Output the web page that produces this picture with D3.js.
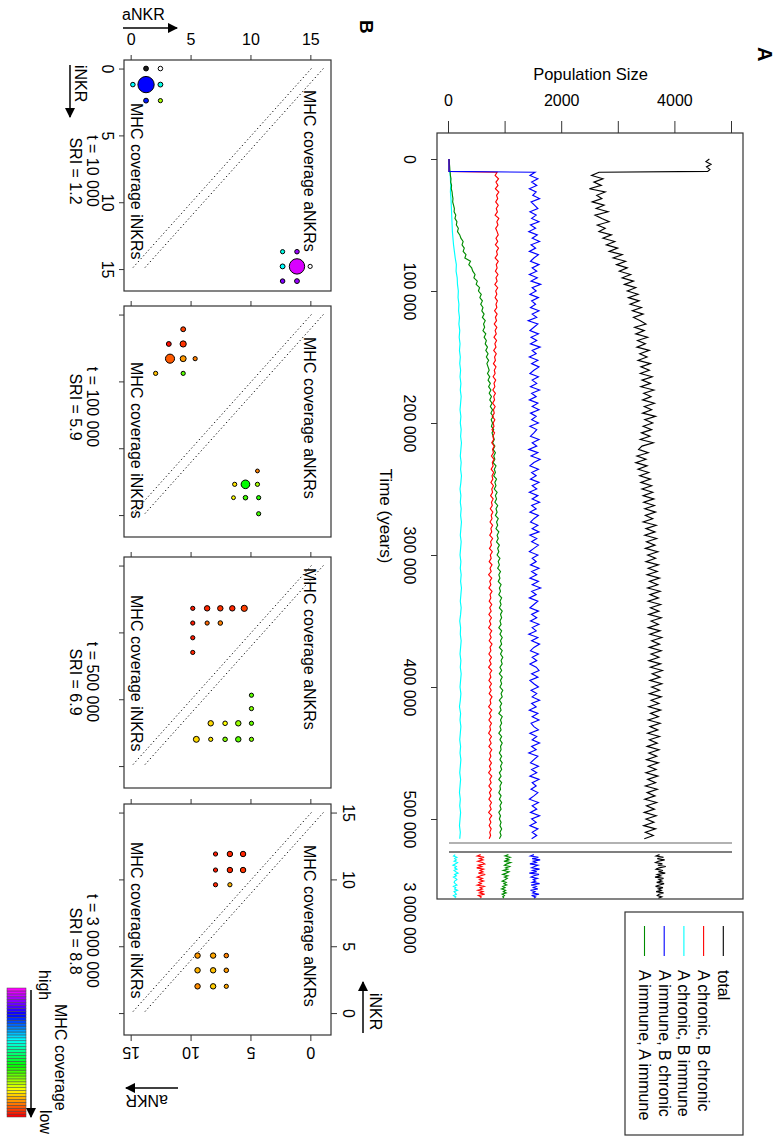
<!DOCTYPE html>
<html>
<head>
<meta charset="utf-8">
<script src="https://cdn.jsdelivr.net/npm/d3@7"></script>
<style>
body { margin: 0; background: #fff; }
text { font-family: "Liberation Sans", Arial, sans-serif; fill: #000; }
</style>
</head>
<body>
<div class="container"></div>
<script>
// ---------- panel A data ----------
var preTimes = [0, 2000, 4000, 6000, 8000, 9400];
var fineTimes = preTimes.concat(d3.range(10000, 515001, 2500));   // total, red, blue, green
var coarseTimes = preTimes.concat(d3.range(10000, 515001, 5000)); // cyan
var lateTimes = d3.range(2952000, 2985001, 1000);

var totalEarly = [4600, 4540, 4630, 4550, 4610, 4570,
  2650, 2520, 2720, 2560, 2690, 2480, 2760, 2610, 2700, 2530,
  2740, 2600, 2810, 2580, 2700, 2830, 2620, 2760, 2650, 2870,
  2720, 2930, 2780, 2980, 2830, 3060, 2900, 3120, 2960, 3150,
  3010, 3210, 3060, 3260, 3100, 3300, 3150, 3340, 3170, 3360,
  3200, 3400, 3240, 3430, 3260, 3380, 3480, 3280, 3450, 3300,
  3510, 3330, 3470, 3320, 3540, 3370, 3500, 3340, 3560, 3390,
  3540, 3380, 3590, 3410, 3560, 3390, 3620, 3440, 3570, 3420,
  3630, 3450, 3580, 3420, 3650, 3460, 3600, 3430, 3580, 3400,
  3550, 3380, 3610, 3410, 3350, 3520, 3320, 3480, 3300, 3500,
  3340, 3530, 3370, 3560, 3390, 3580, 3410, 3600, 3430, 3620,
  3440, 3630, 3460, 3650, 3470, 3600, 3430, 3660, 3480, 3640,
  3460, 3670, 3490, 3640, 3470, 3690, 3510, 3650, 3480, 3700,
  3520, 3680, 3500, 3720, 3540, 3690, 3510, 3730, 3550, 3700,
  3520, 3740, 3560, 3710, 3530, 3750, 3570, 3700, 3520, 3730,
  3550, 3760, 3580, 3720, 3540, 3750, 3570, 3710, 3530, 3740,
  3560, 3770, 3590, 3730, 3550, 3760, 3580, 3720, 3540, 3750,
  3570, 3710, 3530, 3740, 3560, 3700, 3520, 3730, 3550, 3690,
  3510, 3720, 3540, 3680, 3500, 3710, 3530, 3670, 3490, 3700,
  3520, 3660, 3480, 3690, 3510, 3650, 3470, 3680, 3500, 3640,
  3460, 3670, 3490, 3630, 3450, 3660, 3480, 3620, 3440, 3650,
  3470, 3610, 3450];
var ccEarly = [0, 0, 0, 0, 0, 0,
  850, 815, 875, 830, 865, 820, 880, 840, 860, 825,
  870, 835, 855, 815, 880, 845, 865, 825, 850, 870,
  830, 860, 820, 875, 840, 855, 815, 870, 835, 850,
  820, 865, 830, 850, 810, 860, 825, 845, 815, 855,
  830, 845, 805, 850, 820, 840, 800, 845, 815, 835,
  795, 840, 810, 830, 790, 835, 805, 820, 785, 830,
  800, 815, 780, 825, 795, 810, 775, 820, 790, 805,
  770, 815, 785, 800, 765, 810, 780, 795, 760, 805,
  775, 790, 755, 800, 770, 785, 750, 795, 765, 780,
  745, 790, 760, 775, 740, 785, 755, 770, 735, 780,
  750, 765, 730, 775, 745, 760, 725, 770, 740, 755,
  720, 770, 735, 750, 715, 765, 730, 745, 710, 760,
  725, 745, 700, 755, 720, 740, 705, 760, 725, 740,
  710, 755, 720, 745, 705, 750, 715, 740, 700, 755,
  720, 745, 710, 760, 725, 740, 705, 750, 715, 745,
  700, 755, 720, 740, 705, 750, 715, 745, 710, 760,
  725, 740, 700, 755, 715, 745, 705, 750, 720, 735,
  700, 750, 715, 745, 705, 755, 720, 740, 710, 750,
  715, 740, 700, 755, 720, 745, 705, 750, 715, 740,
  705, 750, 720, 745, 700, 755, 715, 740, 710, 745,
  720, 735, 710];
var ciEarly = [0, 0, 0, 0, 0, 0,
  20, 25, 30, 25, 35, 40, 45, 50, 55, 60,
  70, 80, 95, 110, 130, 125, 145, 150, 165, 160,
  175, 170, 185, 175, 190, 180, 195, 185, 200, 190,
  205, 195, 210, 200, 215, 205, 195, 210, 200, 215,
  205, 220, 210, 200, 215, 205, 220, 210, 195, 210,
  200, 215, 205, 220, 210, 200, 215, 205, 195, 210,
  200, 215, 205, 220, 210, 200, 215, 205, 190, 205,
  200, 215, 205, 195, 210, 200, 215, 205, 195, 210,
  200, 185, 205, 195, 210, 200, 190, 205, 195, 210,
  200, 190, 205, 195, 185, 200, 190, 205, 195, 185,
  200, 190];
var icEarly = [0, 0, 0, 0, 0, 0,
  1520, 1430, 1570, 1460, 1550, 1420, 1540, 1480, 1600, 1450,
  1510, 1570, 1430, 1540, 1460, 1590, 1440, 1530, 1410, 1560,
  1470, 1600, 1450, 1530, 1420, 1580, 1500, 1440, 1590, 1470,
  1550, 1420, 1560, 1450, 1620, 1470, 1540, 1430, 1580, 1460,
  1530, 1440, 1590, 1470, 1550, 1400, 1570, 1500, 1430, 1580,
  1450, 1550, 1440, 1610, 1470, 1540, 1420, 1570, 1460, 1590,
  1500, 1430, 1580, 1470, 1550, 1440, 1600, 1460, 1540, 1420,
  1570, 1470, 1590, 1440, 1540, 1460, 1580, 1430, 1550, 1500,
  1440, 1590, 1470, 1550, 1410, 1570, 1450, 1610, 1500, 1430,
  1580, 1460, 1540, 1440, 1590, 1470, 1550, 1420, 1570, 1470,
  1600, 1460, 1540, 1430, 1580, 1500, 1440, 1570, 1470, 1590,
  1430, 1550, 1460, 1580, 1500, 1420, 1570, 1470, 1540, 1440,
  1590, 1460, 1550, 1430, 1580, 1470, 1620, 1460, 1540, 1420,
  1570, 1500, 1430, 1580, 1460, 1550, 1440, 1590, 1470, 1540,
  1410, 1570, 1460, 1600, 1500, 1440, 1580, 1470, 1550, 1430,
  1540, 1590, 1460, 1570, 1430, 1500, 1580, 1450, 1550, 1470,
  1600, 1460, 1540, 1420, 1570, 1470, 1590, 1450, 1500, 1580,
  1430, 1550, 1470, 1600, 1460, 1540, 1410, 1570, 1500, 1440,
  1580, 1460, 1550, 1430, 1590, 1470, 1540, 1450, 1570, 1500,
  1420, 1580, 1470, 1550, 1440, 1600, 1460, 1540, 1430, 1570,
  1470, 1550, 1460];
var iiEarly = [0, 5, 8, 12, 15, 18,
  20, 25, 35, 30, 45, 40, 55, 60, 70, 65,
  80, 95, 90, 120, 105, 140, 130, 165, 150, 190,
  210, 250, 230, 270, 250, 300, 280, 380, 350, 400,
  420, 460, 440, 500, 480, 540, 520, 570, 545, 590,
  560, 600, 580, 620, 590, 640, 610, 630, 600, 650,
  620, 660, 640, 680, 650, 690, 660, 700, 670, 690,
  710, 680, 720, 690, 730, 700, 740, 710, 750, 720,
  760, 730, 770, 740, 780, 745, 770, 750, 790, 760,
  780, 800, 770, 810, 780, 820, 790, 810, 780, 830,
  800, 820, 790, 840, 810, 830, 800, 850, 820, 840,
  810, 860, 830, 850, 820, 870, 840, 860, 830, 880,
  850, 870, 840, 890, 860, 880, 850, 900, 870, 890,
  860, 910, 880, 900, 870, 920, 890, 910, 880, 930,
  900, 920, 890, 940, 910, 930, 900, 920, 880, 930,
  900, 940, 910, 930, 890, 940, 910, 950, 920, 940,
  900, 930, 890, 940, 910, 930, 900, 950, 920, 940,
  890, 930, 900, 920, 880, 940, 910, 930, 900, 920,
  880, 930, 900, 940, 910, 920, 890, 930, 900, 940,
  910, 930, 890, 920, 880, 930, 900, 910, 880, 920,
  890, 930, 900, 920, 880, 910, 890, 920, 900, 930,
  900, 920, 890];

var totalLate = [3720, 3660, 3790, 3680, 3810, 3700, 3650, 3770, 3690, 3830, 3710, 3660, 3780, 3700, 3820, 3680, 3740,
  3640, 3790, 3710, 3760, 3670, 3800, 3720, 3650, 3780, 3700, 3750, 3660, 3790, 3710, 3680, 3760, 3700];
var ccLate = [560, 500, 620, 540, 600, 510, 590, 630, 520, 580, 490, 610, 550, 600, 520, 640, 560,
  500, 590, 540, 610, 530, 570, 500, 620, 550, 590, 510, 600, 540, 630, 520, 570, 550];
var ciLate = [110, 80, 140, 100, 130, 90, 150, 110, 70, 130, 100, 140, 90, 120, 160, 100, 130,
  80, 120, 140, 100, 90, 110, 140, 80, 120, 100, 150, 90, 110, 130, 80, 120, 100];
var icLate = [1500, 1440, 1580, 1470, 1610, 1490, 1540, 1430, 1570, 1510, 1460, 1600, 1480, 1550, 1420, 1590, 1500,
  1450, 1560, 1490, 1530, 1470, 1600, 1450, 1540, 1490, 1570, 1440, 1520, 1480, 1590, 1460, 1530, 1500];
var iiLate = [1050, 990, 1080, 1010, 1060, 970, 1090, 1020, 980, 1070, 1000, 1040, 960, 1060, 1010, 950, 1040,
  980, 1030, 990, 940, 1010, 970, 1020, 950, 990, 930, 1000, 960, 1010, 940, 980, 950, 970];

var seriesNames = ['total', 'A chronic, B chronic', 'A chronic, B immune', 'A immune, B chronic', 'A immune, A immune'];
var seriesColors = ['#000000', '#ff0000', '#00ffff', '#0000ff', '#008b00'];
var timeTicks = [0, 100000, 200000, 300000, 400000, 500000];
var popTicks = [0, 1000, 2000, 3000, 4000, 5000];
var popLabels = [0, 2000, 4000];

// ---------- panel B data (iNKR, aNKR, MHC coverage 0=low..1=high, frequency) ----------
var panelTimes = ['t = 10 000', 't = 100 000', 't = 500 000', 't = 3 000 000'];
var panelSRI = ['SRI = 1.2', 'SRI = 5.9', 'SRI = 6.9', 'SRI = 8.8'];

var p1Inkr = [0, 0, 1.2, 1.2, 1.2, 2.4, 2.4, 13.7, 13.7, 14.8, 14.8, 14.8, 15.9, 15.9];
var p1Ankr = [1.2, 2.4, 0.1, 1.2, 2.4, 1.2, 2.4, 12.6, 13.8, 12.6, 13.8, 14.9, 12.6, 13.8];
var p1Cov  = [-1, null, 0.6, 0.8, 0.58, 0.78, 0.27, 0.58, 0.92, 0.6, 0.97, null, 0.9, 0.92];
var p1Freq = [0.08, 0.07, 0.07, 0.9, 0.08, 0.08, 0.06, 0.06, 0.07, 0.08, 0.8, 0.06, 0.07, 0.08];

var p2Inkr = [1.1, 2.2, 2.2, 3.3, 3.3, 3.3, 4.4, 4.4, 11.7, 12.7, 12.7, 12.7, 13.7, 13.7, 13.7, 14.9];
var p2Ankr = [4.3, 3.1, 4.3, 3.2, 4.3, 5.3, 2.0, 4.3, 10.5, 8.6, 9.5, 10.5, 8.5, 9.5, 10.6, 10.6];
var p2Cov  = [0.05, 0.01, 0.04, 0.07, 0.12, 0.1, 0.15, 0.33, 0.1, 0.18, 0.4, 0.27, 0.2, 0.35, 0.37, 0.35];
var p2Freq = [0.08, 0.08, 0.13, 0.28, 0.12, 0.06, 0.06, 0.06, 0.05, 0.06, 0.25, 0.06, 0.05, 0.07, 0.06, 0.06];

var p3Inkr = [3.2, 4.3, 5.4, 6.5, 3.2, 3.2, 3.2, 3.2, 4.3, 4.3, 9.7, 10.7, 11.8, 11.8, 11.8, 11.8, 13.0, 13.0, 13.0, 13.0, 13.0];
var p3Ankr = [5.1, 5.1, 5.1, 5.1, 6.3, 7.4, 8.4, 9.4, 6.3, 7.4, 10.0, 10.0, 10.0, 6.6, 7.8, 8.9, 5.4, 6.6, 7.8, 8.9, 10.0];
var p3Cov  = [0.02, 0.02, 0.02, 0.03, 0.03, 0.04, 0.03, 0.05, 0.08, 0.1, 0.33, 0.3, 0.32, 0.17, 0.2, 0.28, 0.17, 0.18, 0.3, 0.33, 0.3];
var p3Freq = [0.06, 0.06, 0.06, 0.06, 0.1, 0.1, 0.1, 0.13, 0.06, 0.07, 0.06, 0.06, 0.06, 0.1, 0.07, 0.1, 0.12, 0.06, 0.07, 0.1, 0.06];

// panel 4 is drawn with both axes reversed
var p4Inkr = [11.9, 11.9, 11.9, 10.7, 10.7, 10.7, 9.6, 9.6, 4.3, 4.3, 4.3, 3.2, 3.2, 3.2, 2.0, 2.0, 2.0];
var p4Ankr = [8.0, 6.8, 5.7, 8.0, 6.8, 5.7, 8.0, 6.8, 9.5, 8.2, 7.1, 9.5, 8.2, 7.1, 9.5, 8.2, 7.1];
var p4Cov  = [0.02, 0.03, 0.03, 0.02, 0.03, 0.04, 0.03, 0.14, 0.12, 0.13, 0.1, 0.14, 0.15, 0.12, 0.11, 0.16, 0.13];
var p4Freq = [0.06, 0.1, 0.1, 0.06, 0.1, 0.1, 0.06, 0.06, 0.1, 0.1, 0.07, 0.1, 0.1, 0.07, 0.1, 0.1, 0.06];

var panelTicks = [0, 5, 10, 15];

// ---------- drawing ----------
var translate = function(x, y) { return 'translate(' + x + ',' + y + ')'; };
var fmtTime = function(d) { return d3.format(',')(d).replace(/,/g, ' '); };
var covColor = function(c) {
    if (c === null) return '#ffffff';
    if (c < 0) return '#1a1a1a';
    return d3.hsl(300 * c, 1, 0.5).formatHex();
};

var svg = d3.select('.container').append('svg')
    .attr('width', 781).attr('height', 1136);
svg.append('rect').attr('width', 781).attr('height', 1136).attr('fill', '#fff');

// landscape figure rotated a quarter turn clockwise
var root = svg.append('g').attr('transform', 'translate(781,0) rotate(90)');

root.append('text').attr('x', 47).attr('y', 23)
    .attr('font-weight', 'bold').attr('font-size', 20).text('A');
root.append('text').attr('x', 20).attr('y', 421)
    .attr('font-weight', 'bold').attr('font-size', 19).text('B');

// ----- panel A -----
var timeScale = d3.scaleLinear().domain([0, 500000]).range([159, 819]);
var lateScale = d3.scaleLinear().domain([2950000, 3000000]).range([852, 918]);
var popScale = d3.scaleLinear().domain([0, 5000]).range([332, 49]);

var earlyData = [
    d3.zip(fineTimes, totalEarly), d3.zip(fineTimes, ccEarly), d3.zip(coarseTimes, ciEarly),
    d3.zip(fineTimes, icEarly), d3.zip(fineTimes, iiEarly)
];
var lateData = [totalLate, ccLate, ciLate, icLate, iiLate].map(function(v) { return d3.zip(lateTimes, v); });

var lineEarly = d3.line()
    .x(function(d) { return timeScale(d[0]); })
    .y(function(d) { return popScale(d[1]); });
var lineLate = d3.line()
    .x(function(d) { return lateScale(d[0]); })
    .y(function(d) { return popScale(d[1]); });

var gA = root.append('g');
var drawOrder = [2, 4, 1, 3, 0];
drawOrder.forEach(function(k) {
    gA.append('path').datum(earlyData[k]).attr('d', lineEarly)
        .attr('fill', 'none').attr('stroke', seriesColors[k]).attr('stroke-width', 1.15);
    gA.append('path').datum(lateData[k]).attr('d', lineLate)
        .attr('fill', 'none').attr('stroke', seriesColors[k]).attr('stroke-width', 1.15);
});

// axis break
gA.append('line').attr('x1', 843).attr('x2', 843)
    .attr('y1', popScale(0)).attr('y2', popScale(5000)).attr('stroke', '#666').attr('stroke-width', 1.2);
gA.append('line').attr('x1', 852).attr('x2', 852)
    .attr('y1', popScale(0)).attr('y2', popScale(5000)).attr('stroke', '#000').attr('stroke-width', 1.2);

gA.append('rect').attr('x', 133).attr('y', 38).attr('width', 766).attr('height', 306)
    .attr('fill', 'none').attr('stroke', '#333').attr('stroke-width', 1.2);

var popAxis = d3.axisLeft(popScale).tickValues(popTicks).tickSize(12).tickSizeOuter(0)
    .tickFormat(function(d) { return popLabels.indexOf(d) >= 0 ? d : ''; });
var gPop = gA.append('g').attr('transform', translate(133, 0)).call(popAxis)
    .attr('font-size', 16).attr('font-family', null);
gPop.select('.domain').remove();
gPop.selectAll('line').attr('stroke', '#333');
gPop.selectAll('text').attr('x', null).attr('dy', null).attr('text-anchor', 'middle')
    .attr('transform', 'translate(-27,0) rotate(-90)');

var timeAxis = d3.axisBottom(timeScale).tickValues(timeTicks).tickSize(6).tickSizeOuter(0)
    .tickFormat(fmtTime);
var gTime = gA.append('g').attr('transform', translate(0, 344)).call(timeAxis)
    .attr('font-size', 16).attr('font-family', null);
gTime.select('.domain').remove();
gTime.selectAll('line').attr('stroke', '#333');
gTime.selectAll('text').attr('y', 33).attr('dy', null);

gA.append('text').attr('x', lateScale(3000000)).attr('y', 377)
    .attr('text-anchor', 'middle').attr('font-size', 16).text(fmtTime(3000000));

gA.append('text').attr('x', 516).attr('y', 401).attr('text-anchor', 'middle')
    .attr('font-size', 17).text('Time (years)');
gA.append('text').attr('transform', translate(80, popScale(2500)) + ' rotate(-90)')
    .attr('text-anchor', 'middle').attr('font-size', 16.5).text('Population Size');

// legend
var gL = gA.append('g').attr('transform', translate(912, 38));
gL.append('rect').attr('width', 223).attr('height', 118)
    .attr('fill', '#fff').attr('stroke', '#333').attr('stroke-width', 1.2);
var rows = gL.selectAll('g.row').data(seriesNames).enter().append('g')
    .attr('transform', function(d, i) { return translate(0, 19.7 + i * 19.7); });
rows.append('line').attr('x1', 14).attr('x2', 44)
    .attr('stroke', function(d, i) { return seriesColors[i]; }).attr('stroke-width', 1.1);
rows.append('text').attr('x', 58).attr('y', 5.5).attr('font-size', 16).text(function(d) { return d; });

// ----- panel B -----
var tops = [60, 306, 557, 804];
var panelData = [
    [p1Inkr, p1Ankr, p1Cov, p1Freq],
    [p2Inkr, p2Ankr, p2Cov, p2Freq],
    [p3Inkr, p3Ankr, p3Cov, p3Freq],
    [p4Inkr, p4Ankr, p4Cov, p4Freq]
];
var aLabelStart = [90, 337, 568, 845];
var iLabelStart = [103, 362, 595, 842];
var tLabelMid = [171, 407, 682, 941];
var rScale = d3.scaleSqrt().domain([0, 1]).range([0, 8.6]);

var gB = root.append('g');
tops.forEach(function(top, k) {
    var flip = (k === 3);
    var iScale = d3.scaleLinear().domain(flip ? [15.64, -1.64] : [-0.64, 16.64]).range([top, top + 231]);
    var aScale = d3.scaleLinear().domain(flip ? [15.64, -1.64] : [-0.64, 16.64]).range([657, 450]);
    var g = gB.append('g');

    g.append('rect').attr('x', top).attr('y', 450).attr('width', 231).attr('height', 207)
        .attr('fill', 'none').attr('stroke', '#333').attr('stroke-width', 1.2);

    // reference diagonals
    var d1 = flip ? [[15, 0], [0, 15]] : [[0, 15], [15, 0]];
    var d2 = flip ? [[15, -1], [0, 14]] : [[0, 16], [15, 1]];
    [d1, d2].forEach(function(seg) {
        g.append('line')
            .attr('x1', iScale(seg[0][0])).attr('y1', aScale(seg[0][1]))
            .attr('x2', iScale(seg[1][0])).attr('y2', aScale(seg[1][1]))
            .attr('stroke', '#000').attr('stroke-width', 1).attr('stroke-dasharray', '1.2,2.6');
    });

    var d = panelData[k];
    var pts = d3.range(d[0].length).map(function(j) { return [d[0][j], d[1][j], d[2][j], d[3][j]]; });
    pts.sort(function(a, b) { return b[3] - a[3]; });
    g.selectAll('circle').data(pts).enter().append('circle')
        .attr('cx', function(p) { return iScale(p[0]); })
        .attr('cy', function(p) { return aScale(p[1]); })
        .attr('r', function(p) { return rScale(p[3]); })
        .attr('fill', function(p) { return covColor(p[2]); })
        .attr('stroke', '#000').attr('stroke-width', 1);

    // unlabeled ticks left/bottom (standard orientation)
    var stdI = d3.scaleLinear().domain([-0.64, 16.64]).range([top, top + 231]);
    var stdA = d3.scaleLinear().domain([-0.64, 16.64]).range([657, 450]);
    var axA = g.append('g').attr('transform', translate(top, 0))
        .call(d3.axisLeft(stdA).tickValues(panelTicks).tickSize(5).tickSizeOuter(0))
        .attr('font-size', 16).attr('font-family', null);
    var axI = g.append('g').attr('transform', translate(0, 657))
        .call(d3.axisBottom(stdI).tickValues(panelTicks).tickSize(5).tickSizeOuter(0))
        .attr('font-size', 16).attr('font-family', null);
    [axA, axI].forEach(function(ax) { ax.select('.domain').remove(); ax.selectAll('line').attr('stroke', '#333'); });
    if (k === 0) {
        axA.selectAll('text').attr('x', null).attr('dy', null).attr('text-anchor', 'middle')
            .attr('transform', 'translate(-15,0) rotate(-90)');
        axI.selectAll('text').attr('y', 22).attr('dy', null);
    } else {
        axA.selectAll('text').remove();
        axI.selectAll('text').remove();
    }
    if (flip) {
        var axT = g.append('g').attr('transform', translate(0, 450))
            .call(d3.axisTop(iScale).tickValues(panelTicks).tickSize(6).tickSizeOuter(0))
            .attr('font-size', 16).attr('font-family', null);
        axT.selectAll('text').attr('y', -12).attr('dy', null);
        var axR = g.append('g').attr('transform', translate(top + 231, 0))
            .call(d3.axisRight(aScale).tickValues(panelTicks).tickSize(6).tickSizeOuter(0))
            .attr('font-size', 16).attr('font-family', null);
        axR.selectAll('text').attr('x', null).attr('dy', null).attr('text-anchor', 'middle')
            .attr('transform', 'translate(12,0) rotate(90)');
        [axT, axR].forEach(function(ax) { ax.select('.domain').remove(); ax.selectAll('line').attr('stroke', '#333'); });
    }

    g.append('text').attr('x', aLabelStart[k]).attr('y', 477).attr('font-size', 16).text('MHC coverage aNKRs');
    g.append('text').attr('x', iLabelStart[k]).attr('y', 650).attr('font-size', 16).text('MHC coverage iNKRs');
    g.append('text').attr('x', tLabelMid[k]).attr('y', 694).attr('text-anchor', 'middle')
        .attr('font-size', 16).text(panelTimes[k]);
    g.append('text').attr('x', tLabelMid[k]).attr('y', 711).attr('text-anchor', 'middle')
        .attr('font-size', 16).text(panelSRI[k]);
});

// arrow heads
var defs = svg.append('defs');
defs.append('marker').attr('id', 'arr').attr('viewBox', '0 0 10 10').attr('refX', 9).attr('refY', 5)
    .attr('markerWidth', 7).attr('markerHeight', 7).attr('orient', 'auto')
    .append('path').attr('d', 'M0,0 L10,5 L0,10 z').attr('fill', '#000');

var arrow = function(x1, y1, x2, y2) {
    gB.append('line').attr('x1', x1).attr('y1', y1).attr('x2', x2).attr('y2', y2)
        .attr('stroke', '#000').attr('stroke-width', 1.5).attr('marker-end', 'url(#arr)');
};

// panel 1 axis names
gB.append('text').attr('transform', translate(20, 659) + ' rotate(-90)').attr('font-size', 16).text('aNKR');
arrow(28, 658, 28, 604);
gB.append('text').attr('x', 65).attr('y', 706).attr('font-size', 16).text('iNKR');
arrow(65, 711, 117, 711);

// panel 4 axis names
gB.append('text').attr('x', 993).attr('y', 411).attr('font-size', 16).text('iNKR');
arrow(1033, 418, 982, 418);
gB.append('text').attr('transform', translate(1095, 613) + ' rotate(90)').attr('font-size', 16).text('aNKR');
arrow(1088, 603, 1088, 655);

// colour key
var nBands = 44;
var keyScale = d3.scaleLinear().domain([nBands, 0]).range([988, 1117]);
var gK = root.append('g');
gK.selectAll('rect').data(d3.range(nBands)).enter().append('rect')
    .attr('x', function(i) { return keyScale(i + 1); })
    .attr('y', 755)
    .attr('width', function(i) { return keyScale(i) - keyScale(i + 1); })
    .attr('height', 19)
    .attr('fill', function(i) { return covColor(i / (nBands - 1)); })
    .attr('stroke', '#444').attr('stroke-width', 0.5);
gK.append('text').attr('x', 1004).attr('y', 726).attr('font-size', 16).text('MHC coverage');
gK.append('text').attr('x', 970).attr('y', 742).attr('font-size', 16).text('high');
gK.append('text').attr('x', 1110).attr('y', 741).attr('font-size', 16).text('low');
gK.append('line').attr('x1', 990).attr('y1', 750).attr('x2', 1117).attr('y2', 750)
    .attr('stroke', '#000').attr('stroke-width', 1.5).attr('marker-end', 'url(#arr)');
</script>
</body>
</html>
